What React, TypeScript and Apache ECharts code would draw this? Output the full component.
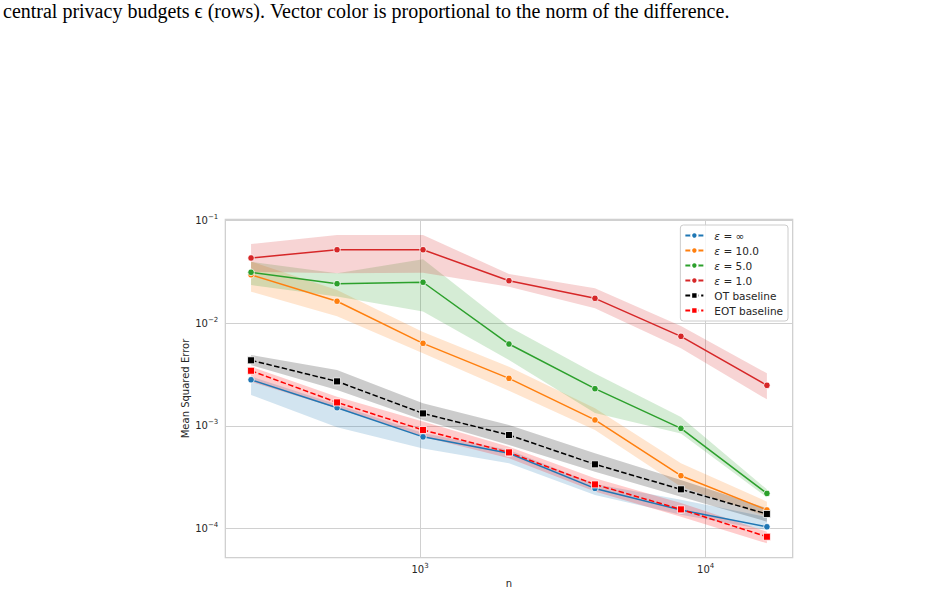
import React, { useEffect, useRef } from "react";
import * as echarts from "echarts";

const nVals = [256, 512, 1024, 2048, 4096, 8192, 16384];

const epsInfMean = [0.00281, 0.0015, 0.00078, 0.00054, 0.000245, 0.000151, 0.0001035];
const epsInfLo = [0.002, 0.00097, 0.0006, 0.00043, 0.000211, 0.000136, 0.0000963];
const epsInfHi = [0.00302, 0.00161, 0.00085, 0.00058, 0.00027, 0.00019, 0.000129];

const eps10Mean = [0.0297, 0.0164, 0.00637, 0.0029, 0.00114, 0.000326, 0.000151];
const eps10Lo = [0.0203, 0.0117, 0.0051, 0.0022, 0.00091, 0.000255, 0.00013];
const eps10Hi = [0.04, 0.0211, 0.0082, 0.00377, 0.00148, 0.00043, 0.000182];

const eps5Mean = [0.0314, 0.0243, 0.0251, 0.00627, 0.0023, 0.000944, 0.000219];
const eps5Lo = [0.0236, 0.0182, 0.013, 0.00437, 0.00133, 0.00084, 0.0002];
const eps5Hi = [0.0398, 0.0307, 0.042, 0.00925, 0.00324, 0.00122, 0.00024];

const eps1Mean = [0.0433, 0.0521, 0.0521, 0.026, 0.0175, 0.00745, 0.00248];
const eps1Lo = [0.0319, 0.0307, 0.031, 0.0227, 0.014, 0.0057, 0.00181];
const eps1Hi = [0.0593, 0.0726, 0.0726, 0.0302, 0.0219, 0.0094, 0.00325];

const otMean = [0.00435, 0.00271, 0.00132, 0.000813, 0.000421, 0.00024, 0.000138];
const otLo = [0.0039, 0.00223, 0.00114, 0.000649, 0.000356, 0.000203, 0.000116];
const otHi = [0.0049, 0.0035, 0.00166, 0.00102, 0.00054, 0.000296, 0.000157];

const eotMean = [0.00344, 0.00169, 0.00091, 0.00055, 0.000268, 0.000153, 0.0000828];
const eotLo = [0.00269, 0.00148, 0.00078, 0.000482, 0.000228, 0.00013, 0.0000714];
const eotHi = [0.00377, 0.00192, 0.0011, 0.000625, 0.000308, 0.000177, 0.0000927];

const seriesNames = ["ε = ∞", "ε = 10.0", "ε = 5.0", "ε = 1.0", "OT baseline", "EOT baseline"];

const caption =
  "central privacy budgets ϵ (rows). Vector color is proportional to the norm of the difference.";

const groups = [
  { name: seriesNames[0], color: "#1f77b4", mean: epsInfMean, lo: epsInfLo, hi: epsInfHi, base: false },
  { name: seriesNames[1], color: "#ff7f0e", mean: eps10Mean, lo: eps10Lo, hi: eps10Hi, base: false },
  { name: seriesNames[2], color: "#2ca02c", mean: eps5Mean, lo: eps5Lo, hi: eps5Hi, base: false },
  { name: seriesNames[3], color: "#d62728", mean: eps1Mean, lo: eps1Lo, hi: eps1Hi, base: false },
  { name: seriesNames[4], color: "#000000", mean: otMean, lo: otLo, hi: otHi, base: true },
  { name: seriesNames[5], color: "#ff0000", mean: eotMean, lo: eotLo, hi: eotHi, base: true },
];

function rgba(hex: string, a: number) {
  const r = parseInt(hex.slice(1, 3), 16);
  const g = parseInt(hex.slice(3, 5), 16);
  const b = parseInt(hex.slice(5, 7), 16);
  return `rgba(${r},${g},${b},${a})`;
}

const supMap: Record<string, string> = { "-": "−" };
function powLabel(v: number) {
  const l = Math.log10(v);
  const e = Math.round(l);
  if (Math.abs(l - e) > 0.01) return "";
  const s = String(e).split("").map((c) => supMap[c] || c).join("");
  return "{b|10}{sup|" + s + "}";
}

const FONT = "DejaVu Sans";
const TXT = "#262626";

export default function App() {
  const ref = useRef<HTMLDivElement>(null);
  useEffect(() => {
    if (!ref.current) return;
    const chart = echarts.init(ref.current, undefined, { renderer: "svg" });

    const bandSeries = groups.map((g, gi) => ({
      type: "custom",
      name: "band" + gi,
      z: 1,
      silent: true,
      data: nVals.map((n, i) => [n, g.lo[i], g.hi[i]]),
      encode: { x: 0, y: [1, 2] },
      renderItem: (params: any, api: any) => {
        if (params.dataIndex !== 0) return null;
        const pts: number[][] = [];
        for (let i = 0; i < nVals.length; i++) pts.push(api.coord([nVals[i], g.hi[i]]));
        for (let i = nVals.length - 1; i >= 0; i--) pts.push(api.coord([nVals[i], g.lo[i]]));
        return {
          type: "polygon",
          shape: { points: pts },
          style: { fill: rgba(g.color, 0.2), stroke: "none" },
        };
      },
    }));

    const lineSeries = groups.map((g) => ({
      type: "line",
      name: g.name,
      z: 3,
      data: nVals.map((n, i) => [n, g.mean[i]]),
      symbol: g.base ? "rect" : "circle",
      symbolSize: g.base ? 7 : 6.5,
      showAllSymbol: true,
      itemStyle: { color: g.color, borderColor: "#ffffff", borderWidth: 0.8 },
      lineStyle: g.base
        ? { color: g.color, width: 1.5, type: [5.5, 2.4] }
        : { color: g.color, width: 1.5 },
      emphasis: { disabled: true },
    }));

    const labelRich = {
      b: { fontSize: 10, fontFamily: FONT, color: TXT, lineHeight: 14 },
      sup: { fontSize: 7, fontFamily: FONT, color: TXT, lineHeight: 8, verticalAlign: "top" },
    };

    chart.setOption({
      animation: false,
      backgroundColor: "#ffffff",
      textStyle: { fontFamily: FONT },
      grid: {
        left: 225.3,
        top: 219.3,
        right: 145.3,
        bottom: 36.3,
        show: true,
        borderColor: "#cccccc",
        borderWidth: 1.2,
        backgroundColor: "transparent",
      },
      xAxis: {
        type: "log",
        logBase: 10,
        min: 208,
        max: 20170,
        name: "n",
        nameLocation: "middle",
        nameGap: 21,
        nameMoveOverlap: false,
        nameTextStyle: { fontSize: 10, color: TXT, fontFamily: FONT },
        axisLine: { show: false },
        axisTick: { show: false },
        minorTick: { show: false },
        splitLine: { show: true, lineStyle: { color: "#d0d0d0", width: 1 } },
        axisLabel: {
          margin: 5,
          showMinLabel: false,
          showMaxLabel: false,
          formatter: (v: number) => powLabel(v),
          rich: labelRich,
        },
      },
      yAxis: {
        type: "log",
        logBase: 10,
        min: 5.17e-5,
        max: 0.1032,
        name: "Mean Squared Error",
        nameLocation: "middle",
        nameGap: 35,
        nameMoveOverlap: false,
        nameTextStyle: { fontSize: 10, color: TXT, fontFamily: FONT },
        axisLine: { show: false },
        axisTick: { show: false },
        minorTick: { show: false },
        splitLine: { show: true, lineStyle: { color: "#d0d0d0", width: 1 } },
        axisLabel: {
          margin: 7,
          showMinLabel: false,
          showMaxLabel: false,
          formatter: (v: number) => powLabel(v),
          rich: labelRich,
        },
      },
      legend: {
        data: seriesNames,
        orient: "vertical",
        right: 150,
        top: 225,
        itemWidth: 18,
        itemHeight: 8,
        itemGap: 2,
        padding: [4, 5, 4, 4],
        backgroundColor: "rgba(255,255,255,0.8)",
        borderColor: "#cccccc",
        borderWidth: 1,
        borderRadius: 3,
        align: "left",
        formatter: (name: string) => (name.startsWith("ε") ? "{i|ε}" + name.slice(1) : name),
        textStyle: {
          fontSize: 10.5,
          color: TXT,
          fontFamily: FONT,
          lineHeight: 13,
          padding: [0, 0, 0, 6],
          rich: {
            i: { fontStyle: "italic", fontSize: 10.5, fontFamily: FONT, color: TXT, lineHeight: 13 },
          },
        },
      },
      graphic: [
        {
          type: "text",
          left: 3,
          top: 1,
          style: {
            text: caption,
            fontFamily: "Liberation Serif",
            fontSize: 20,
            fill: "#000000",
          },
        },
      ],
      series: [...bandSeries, ...lineSeries],
    });

    return () => chart.dispose();
  }, []);

  return (
    <div
      ref={ref}
      style={{ position: "fixed", left: 0, top: 0, width: 938, height: 594, background: "#fff" }}
    />
  );
}
